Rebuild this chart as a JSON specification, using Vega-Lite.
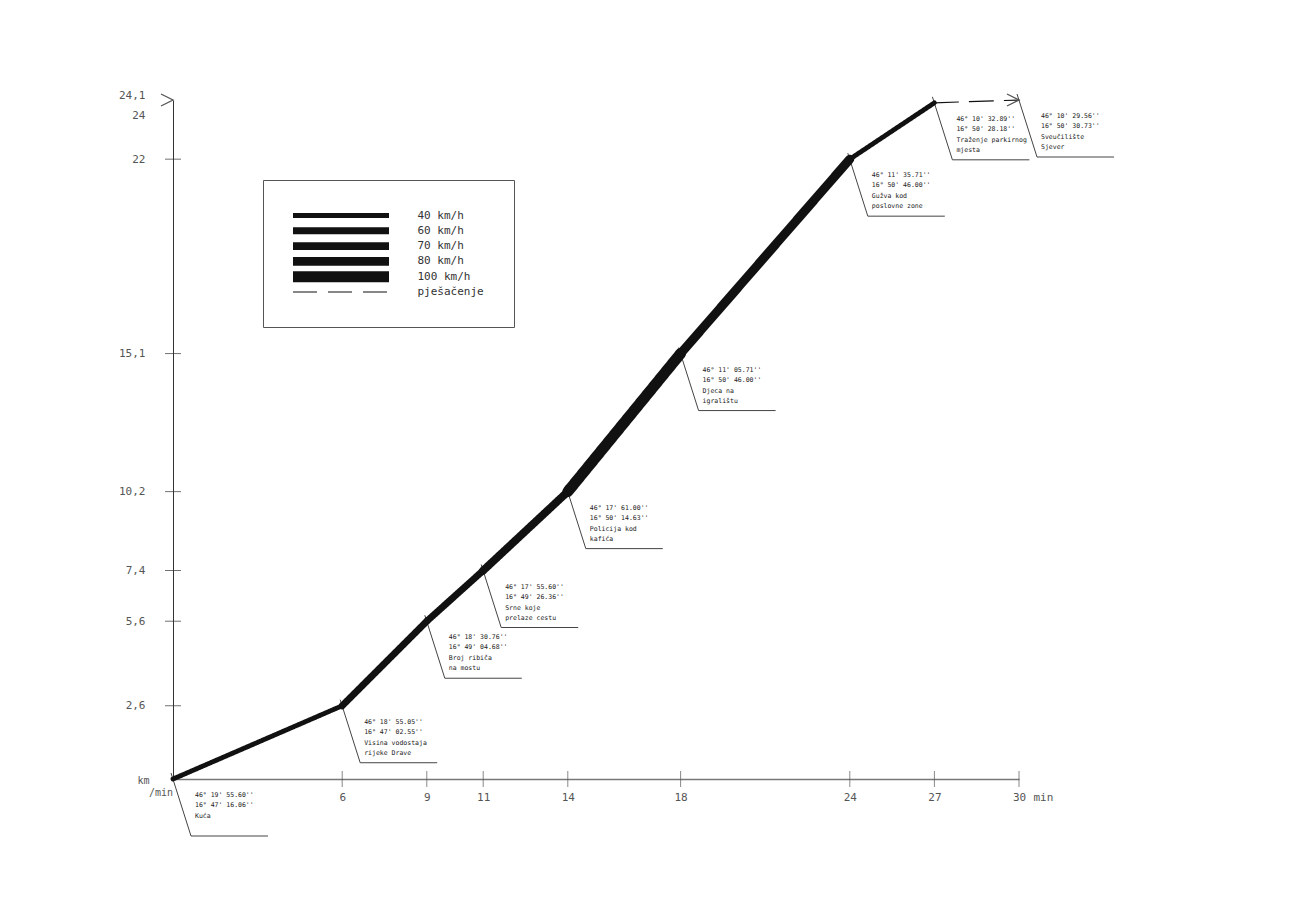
{
  "$schema": "https://vega.github.io/schema/vega-lite/v6.json",
  "autosize": {"type": "none"},
  "padding": {"left": 173, "top": 100, "right": 281, "bottom": 121},
  "width": 846,
  "height": 679,
  "background": "white",
  "config": {"view": {"stroke": null}, "font": "DejaVu Sans Mono"},
  "datasets": {
    "segmenti": [
      {"seg": 1, "min": 0, "km": 0, "kmh": 40, "nacin": "40 km/h"},
      {"seg": 1, "min": 6, "km": 2.6, "kmh": 40, "nacin": "40 km/h"},
      {"seg": 2, "min": 6, "km": 2.6, "kmh": 60, "nacin": "60 km/h"},
      {"seg": 2, "min": 9, "km": 5.6, "kmh": 60, "nacin": "60 km/h"},
      {"seg": 3, "min": 9, "km": 5.6, "kmh": 60, "nacin": "60 km/h"},
      {"seg": 3, "min": 11, "km": 7.4, "kmh": 60, "nacin": "60 km/h"},
      {"seg": 4, "min": 11, "km": 7.4, "kmh": 70, "nacin": "70 km/h"},
      {"seg": 4, "min": 14, "km": 10.2, "kmh": 70, "nacin": "70 km/h"},
      {"seg": 5, "min": 14, "km": 10.2, "kmh": 100, "nacin": "100 km/h"},
      {"seg": 5, "min": 18, "km": 15.1, "kmh": 100, "nacin": "100 km/h"},
      {"seg": 6, "min": 18, "km": 15.1, "kmh": 80, "nacin": "80 km/h"},
      {"seg": 6, "min": 24, "km": 22, "kmh": 80, "nacin": "80 km/h"},
      {"seg": 7, "min": 24, "km": 22, "kmh": 40, "nacin": "40 km/h"},
      {"seg": 7, "min": 27, "km": 24, "kmh": 40, "nacin": "40 km/h"},
      {"seg": 8, "min": 27, "km": 24, "kmh": 5, "nacin": "pješačenje"},
      {"seg": 8, "min": 30, "km": 24.1, "kmh": 5, "nacin": "pješačenje"}
    ],
    "tocke": [
      {"min": 0, "km": 0, "koord": ["46° 19' 55.60''", "16° 47' 16.06''"], "naziv": ["Kuća"]},
      {"min": 6, "km": 2.6, "koord": ["46° 18' 55.05''", "16° 47' 02.55''"], "naziv": ["Visina vodostaja", "rijeke Drave"]},
      {"min": 9, "km": 5.6, "koord": ["46° 18' 30.76''", "16° 49' 04.68''"], "naziv": ["Broj ribiča", "na mostu"]},
      {"min": 11, "km": 7.4, "koord": ["46° 17' 55.60''", "16° 49' 26.36''"], "naziv": ["Srne koje", "prelaze cestu"]},
      {"min": 14, "km": 10.2, "koord": ["46° 17' 61.00''", "16° 50' 14.63''"], "naziv": ["Policija kod", "kafića"]},
      {"min": 18, "km": 15.1, "koord": ["46° 11' 05.71''", "16° 50' 46.00''"], "naziv": ["Djeca na", "igralištu"]},
      {"min": 24, "km": 22, "koord": ["46° 11' 35.71''", "16° 50' 46.00''"], "naziv": ["Gužva kod", "poslovne zone"]},
      {"min": 27, "km": 24, "koord": ["46° 10' 32.89''", "16° 50' 28.18''"], "naziv": ["Traženje parkirnog", "mjesta"]},
      {"min": 30, "km": 24.1, "koord": ["46° 10' 29.56''", "16° 50' 30.73''"], "naziv": ["Sveučilište", "Sjever"]}
    ],
    "kvacice_y": [{"km": 2.6}, {"km": 5.6}, {"km": 7.4}, {"km": 10.2}, {"km": 15.1}, {"km": 22}],
    "kvacice_x": [{"min": 6}, {"min": 9}, {"min": 11}, {"min": 14}, {"min": 18}, {"min": 24}, {"min": 27}, {"min": 30}],
    "strelice": [{"min": 0, "km": 24.1}, {"min": 30, "km": 24.1}],
    "jedinica": [{"min": 0, "km": 0, "t": "/min"}]
  },
  "layer": [
    {
      "data": {"name": "kvacice_y"},
      "mark": {"type": "tick", "orient": "horizontal", "size": 16, "thickness": 1, "color": "#333"},
      "encoding": {
        "x": {"datum": 0, "type": "quantitative"},
        "y": {"field": "km", "type": "quantitative"}
      }
    },
    {
      "data": {"name": "kvacice_x"},
      "mark": {"type": "tick", "orient": "vertical", "size": 16, "thickness": 1, "color": "#555"},
      "encoding": {
        "x": {"field": "min", "type": "quantitative"},
        "y": {"datum": 0, "type": "quantitative"}
      }
    },
    {
      "data": {"name": "tocke"},
      "mark": {"type": "rule", "color": "#444", "strokeWidth": 1, "xOffset": -2, "yOffset": -6, "x2Offset": 18, "y2Offset": 57},
      "encoding": {
        "x": {"field": "min", "type": "quantitative"},
        "y": {"field": "km", "type": "quantitative"},
        "x2": {"field": "min"},
        "y2": {"field": "km"}
      }
    },
    {
      "data": {"name": "tocke"},
      "mark": {"type": "rule", "color": "#444", "strokeWidth": 1, "xOffset": 18, "yOffset": 57, "x2Offset": 95, "y2Offset": 57},
      "encoding": {
        "x": {"field": "min", "type": "quantitative"},
        "y": {"field": "km", "type": "quantitative"},
        "x2": {"field": "min"},
        "y2": {"field": "km"}
      }
    },
    {
      "data": {"name": "segmenti"},
      "mark": {"type": "line", "color": "#111", "strokeCap": "round", "strokeJoin": "round"},
      "encoding": {
        "x": {
          "field": "min", "type": "quantitative",
          "scale": {"domain": [0, 30], "nice": false, "zero": false},
          "axis": {
            "values": [6, 9, 11, 14, 18, 24, 27, 30],
            "ticks": false, "tickSize": 0, "grid": false,
            "domainColor": "#777", "domainWidth": 1.5,
            "labelFont": "DejaVu Sans Mono", "labelFontSize": 11, "labelColor": "#555",
            "labelPadding": 12, "labelFlush": false, "labelOverlap": false,
            "title": "min", "titleX": 860, "titleY": 18, "titleAlign": "left", "titleBaseline": "middle",
            "titleFont": "DejaVu Sans Mono", "titleFontSize": 11, "titleFontWeight": "normal", "titleColor": "#555"
          }
        },
        "y": {
          "field": "km", "type": "quantitative",
          "scale": {"domain": [0, 24.1], "nice": false, "zero": true},
          "axis": {
            "values": [2.6, 5.6, 7.4, 10.2, 15.1, 22, 24, 24.1],
            "ticks": false, "tickSize": 0, "grid": false,
            "domainColor": "#333", "domainWidth": 1,
            "labelFont": "DejaVu Sans Mono", "labelFontSize": 11, "labelColor": "#555",
            "labelPadding": 28, "labelFlush": false, "labelOverlap": false,
            "labelExpr": "datum.value % 1 == 0 ? format(datum.value, 'd') : replace(format(datum.value, '.1f'), '.', ',')",
            "labelOffset": {"condition": [{"test": "datum.value == 24", "value": 13}, {"test": "datum.value > 24", "value": -5}], "value": 0},
            "title": "km", "titleAngle": 0, "titleX": -36, "titleY": 680, "titleAlign": "left", "titleBaseline": "middle",
            "titleFont": "DejaVu Sans Mono", "titleFontSize": 10, "titleFontWeight": "normal", "titleColor": "#555"
          }
        },
        "detail": {"field": "seg", "type": "nominal"},
        "order": {"field": "min", "type": "quantitative"},
        "strokeWidth": {
          "field": "kmh", "type": "quantitative",
          "scale": {"domain": [5, 100], "range": [1.2, 11], "zero": false},
          "legend": null
        },
        "strokeDash": {
          "field": "nacin", "type": "nominal",
          "scale": {
            "domain": ["40 km/h", "60 km/h", "70 km/h", "80 km/h", "100 km/h", "pješačenje"],
            "range": [[1, 0], [1, 0], [1, 0], [1, 0], [1, 0], [24, 11]]
          },
          "legend": {
            "title": null, "orient": "none", "legendX": 90, "legendY": 80,
            "padding": 30, "strokeColor": "#555", "fillColor": "white",
            "symbolType": {"expr": "datum.value == '40 km/h' ? 'M0,-1.2H48V1.2H0Z' : datum.value == '60 km/h' ? 'M0,-1.725H48V1.725H0Z' : datum.value == '70 km/h' ? 'M0,-1.975H48V1.975H0Z' : datum.value == '80 km/h' ? 'M0,-2.225H48V2.225H0Z' : datum.value == '100 km/h' ? 'M0,-2.75H48V2.75H0Z' : 'M0,0H48'"},
            "symbolSize": 16, "symbolStrokeColor": "#111", "symbolFillColor": "#111",
            "symbolStrokeWidth": {"expr": "datum.value == 'pješačenje' ? 1.2 : 0"},
            "symbolOffset": -5.5, "labelOffset": 119,
            "labelFont": "DejaVu Sans Mono", "labelFontSize": 11, "labelColor": "#333",
            "rowPadding": 3.3
          }
        }
      }
    },
    {
      "data": {"name": "strelice"},
      "mark": {"type": "point", "shape": "M-1,-0.5L0,0L-1,0.5", "size": 576, "filled": false, "color": "#555", "strokeWidth": 1.3, "opacity": 1},
      "encoding": {
        "x": {"field": "min", "type": "quantitative"},
        "y": {"field": "km", "type": "quantitative"}
      }
    },
    {
      "data": {"name": "tocke"},
      "mark": {"type": "text", "align": "left", "baseline": "top", "dx": 22, "dy": 13, "font": "DejaVu Sans Mono", "fontSize": 6.5, "lineHeight": 10, "color": "#222"},
      "encoding": {
        "x": {"field": "min", "type": "quantitative"},
        "y": {"field": "km", "type": "quantitative"},
        "text": {"field": "koord"}
      }
    },
    {
      "data": {"name": "tocke"},
      "mark": {"type": "text", "align": "left", "baseline": "top", "dx": 22, "dy": 34, "font": "DejaVu Sans Mono", "fontSize": 6.5, "lineHeight": 10, "color": "#222"},
      "encoding": {
        "x": {"field": "min", "type": "quantitative"},
        "y": {"field": "km", "type": "quantitative"},
        "text": {"field": "naziv"}
      }
    },
    {
      "data": {"name": "jedinica"},
      "mark": {"type": "text", "align": "left", "baseline": "middle", "dx": -24, "dy": 14, "font": "DejaVu Sans Mono", "fontSize": 10, "color": "#555"},
      "encoding": {
        "x": {"field": "min", "type": "quantitative"},
        "y": {"field": "km", "type": "quantitative"},
        "text": {"field": "t"}
      }
    }
  ]
}
